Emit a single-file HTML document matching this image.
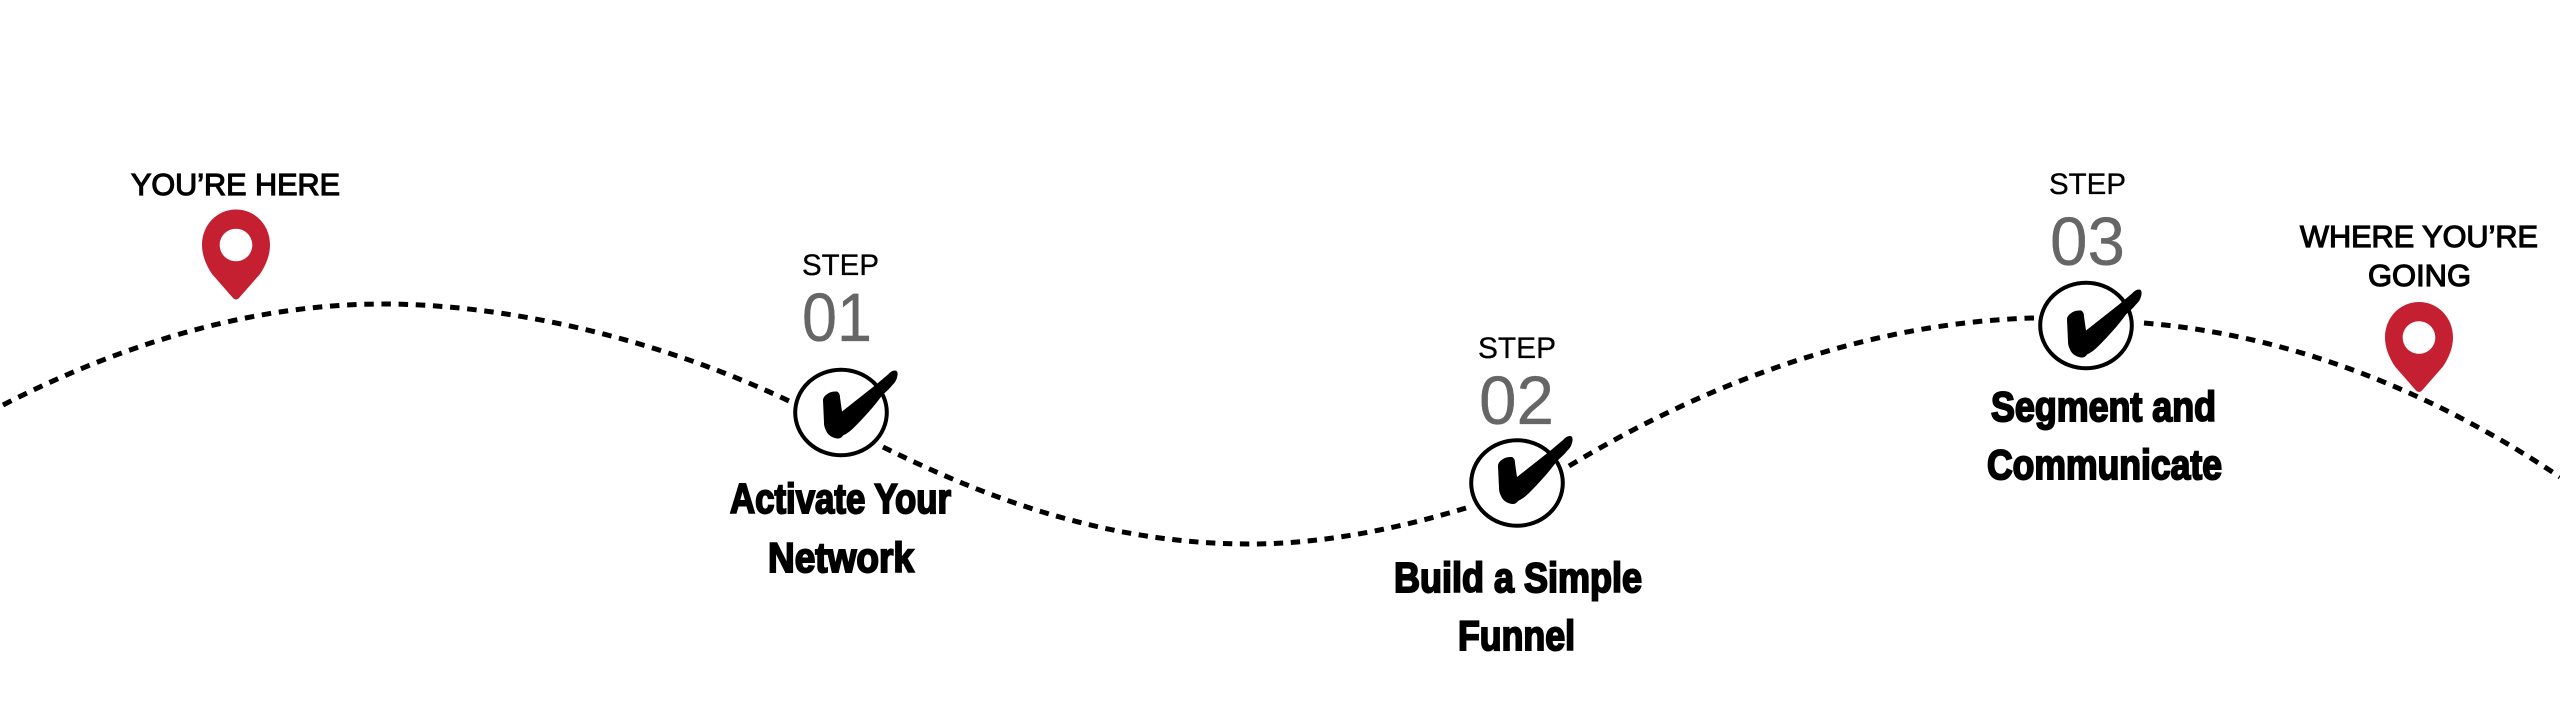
<!DOCTYPE html>
<html><head><meta charset="utf-8"><style>
html,body{margin:0;padding:0;background:#fff;width:2560px;height:710px;overflow:hidden}
svg{display:block}
.l{font-family:"Liberation Sans",sans-serif;fill:#000;stroke:#000;stroke-width:1.2}
.s{font-family:"Liberation Sans",sans-serif;fill:#000;stroke:#000;stroke-width:.3}
.n{font-family:"Liberation Sans",sans-serif;fill:#666;stroke:#666;stroke-width:.3;font-size:69px}
.t{font-family:"Liberation Sans",sans-serif;font-weight:bold;fill:#000;stroke:#000;stroke-width:2;font-size:42px}
</style></head><body>
<svg width="2560" height="710" viewBox="0 0 2560 710" xmlns="http://www.w3.org/2000/svg">
<defs>
<path id="mark" fill="#000" d="M53 -47C56 -47 56 -43 55 -40C54 -36 52 -34 50 -32C47 -28 43 -25 40 -22C32 -11 22 0 12 10C8 14 5 16 1 18C-1 21 -3 21 -5 21C-10 20 -13 18 -15 15C-17 11 -18 9 -18 5L-19 -17C-19 -20 -17 -22 -14 -24C-11 -26 -8 -26 -5 -26C-3 -25 -2 -23 -2 -20L0 -6L33 -32L46 -43C48 -45 50 -47 53 -47Z"/>
<path id="pin" fill-rule="evenodd" fill="#c42032" d="M0 -35.5C19 -35.5 34 -20 34 0C34 10 30 20 24 29L3 53C1 55 -1 55 -3 53L-24 29C-30 20 -34 10 -34 0C-34 -20 -19 -35.5 0 -35.5ZM0 -16.3C-9 -16.3 -16.3 -9 -16.3 0C-16.3 9 -9 16.3 0 16.3C9 16.3 16.3 9 16.3 0C16.3 -9 9 -16.3 0 -16.3Z"/>
</defs>

<g fill="none" stroke="#000" stroke-width="5" stroke-dasharray="9.5 7.7">
<path pathLength="818" d="M3 405C120 345 250 304 383 304C500 304 650 335 789 401"/>
<path pathLength="611.5" d="M883 447C990 500 1110 544 1249 544C1325 544 1400 528 1466 508"/>
<path pathLength="491.1" d="M1569 466C1720 375 1880 322 2034 318"/>
<path d="M2144 323C2290 335 2430 390 2560 477"/>
</g>

<use href="#pin" x="236" y="245"/>
<use href="#pin" x="2419" y="337.5"/>

<ellipse cx="841" cy="412.5" rx="45.8" ry="42.8" fill="#fff" stroke="#000" stroke-width="4"/>
<use href="#mark" x="842" y="417.5"/>
<ellipse cx="1517" cy="483" rx="45.8" ry="42.8" fill="#fff" stroke="#000" stroke-width="4"/>
<use href="#mark" x="1517" y="483"/>
<ellipse cx="2086" cy="325.5" rx="45.8" ry="42.8" fill="#fff" stroke="#000" stroke-width="4"/>
<use href="#mark" x="2086" y="336.5"/>

<text class="l" x="131" y="195" font-size="31" textLength="209" lengthAdjust="spacingAndGlyphs">YOU’RE HERE</text>
<text class="l" x="2300" y="247" font-size="31" textLength="238" lengthAdjust="spacingAndGlyphs">WHERE YOU’RE</text>
<text class="l" x="2368" y="286" font-size="31" textLength="103" lengthAdjust="spacingAndGlyphs">GOING</text>

<text class="s" x="802" y="275" font-size="30" textLength="77" lengthAdjust="spacingAndGlyphs">STEP</text>
<text class="s" x="1478" y="358" font-size="30" textLength="78" lengthAdjust="spacingAndGlyphs">STEP</text>
<text class="s" x="2049" y="194" font-size="30" textLength="77" lengthAdjust="spacingAndGlyphs">STEP</text>

<text class="n" x="802" y="341" textLength="70" lengthAdjust="spacingAndGlyphs">01</text>
<text class="n" x="1479" y="424" textLength="75" lengthAdjust="spacingAndGlyphs">02</text>
<text class="n" x="2050" y="265" textLength="75" lengthAdjust="spacingAndGlyphs">03</text>

<text class="t" x="730" y="513" textLength="221" lengthAdjust="spacingAndGlyphs">Activate Your</text>
<text class="t" x="768" y="572" textLength="146" lengthAdjust="spacingAndGlyphs">Network</text>
<text class="t" x="1394" y="592" textLength="248" lengthAdjust="spacingAndGlyphs">Build a Simple</text>
<text class="t" x="1458" y="650" textLength="117" lengthAdjust="spacingAndGlyphs">Funnel</text>
<text class="t" x="1991" y="421" textLength="225" lengthAdjust="spacingAndGlyphs">Segment and</text>
<text class="t" x="1987" y="479" textLength="235" lengthAdjust="spacingAndGlyphs">Communicate</text>
</svg>
</body></html>
